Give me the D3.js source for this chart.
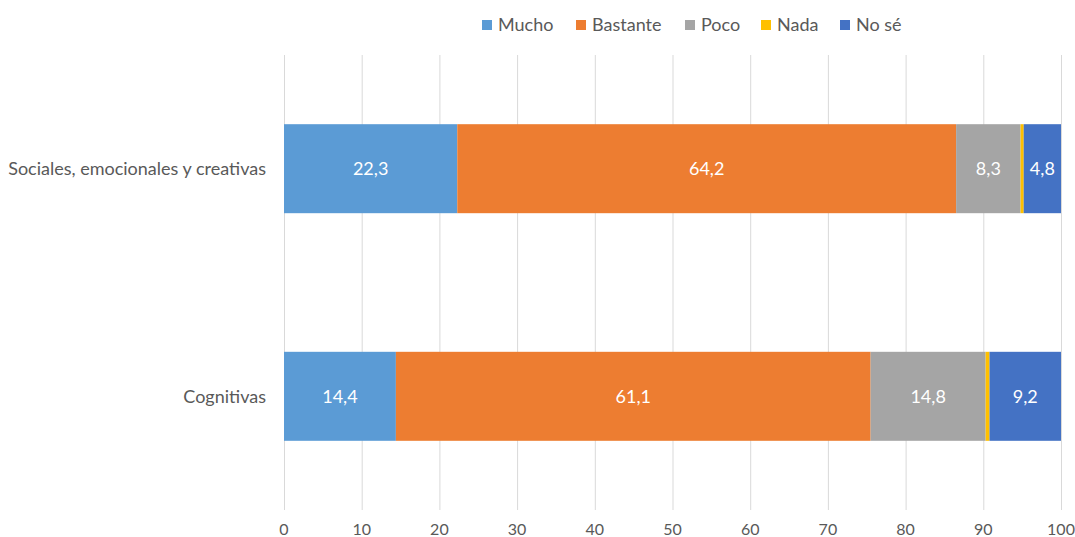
<!DOCTYPE html>
<html>
<head>
<meta charset="utf-8">
<script src="https://cdn.jsdelivr.net/npm/d3@7"></script>
<style>
  body { margin: 0; background: #fff; }
  svg { display: block; font-family: Lato, "Open Sans", sans-serif; }
</style>
</head>
<body>
<svg width="1075" height="537"></svg>
<script>
  const categories = ["Sociales, emocionales y creativas", "Cognitivas"];
  const seriesNames = ["Mucho", "Bastante", "Poco", "Nada", "No sé"];
  const seriesColors = ["#5b9bd5", "#ed7d31", "#a5a5a5", "#ffc000", "#4472c4"];
  const mucho = [22.3, 14.4];
  const bastante = [64.2, 61.1];
  const poco = [8.3, 14.8];
  const nada = [0.4, 0.5];
  const noSe = [4.8, 9.2];
  const xTicks = [0, 10, 20, 30, 40, 50, 60, 70, 80, 90, 100];

  const svg = d3.select("svg");
  const plotLeft = 284, plotRight = 1061, plotTop = 55, plotBottom = 510;

  const rows = categories.map((c, i) => ({
    cat: c,
    Mucho: mucho[i], Bastante: bastante[i], Poco: poco[i], Nada: nada[i], "No sé": noSe[i]
  }));

  const x = d3.scaleLinear().domain([0, 100]).range([plotLeft, plotRight]);
  const y = d3.scaleBand().domain(categories).range([plotTop, plotBottom])
    .paddingInner(0.609).paddingOuter(0.304);
  const color = d3.scaleOrdinal().domain(seriesNames).range(seriesColors);

  // gridlines
  svg.append("g")
    .selectAll("line")
    .data(xTicks)
    .enter().append("line")
    .attr("x1", d => x(d) + 0.5)
    .attr("x2", d => x(d) + 0.5)
    .attr("y1", plotTop)
    .attr("y2", plotBottom)
    .attr("stroke", "#d9d9d9")
    .attr("stroke-width", 1);

  // tick labels (sit at the very bottom edge, as in the original)
  svg.append("g")
    .selectAll("text")
    .data(xTicks)
    .enter().append("text")
    .attr("x", d => x(d))
    .attr("y", 535)
    .attr("text-anchor", "middle")
    .attr("font-size", 16)
    .attr("fill", "#595959")
    .text(d => d);

  const stacked = d3.stack().keys(seriesNames)(rows);

  const layer = svg.append("g")
    .selectAll("g")
    .data(stacked)
    .enter().append("g")
    .attr("fill", d => color(d.key));

  layer.selectAll("rect")
    .data(d => d)
    .enter().append("rect")
    .attr("x", d => x(d[0]))
    .attr("width", d => x(d[1]) - x(d[0]))
    .attr("y", d => y(d.data.cat))
    .attr("height", y.bandwidth());

  // data labels (Nada has none)
  const fmt = v => d3.format(".1f")(v).replace(".", ",");
  layer.filter(d => d.key !== "Nada")
    .selectAll("text")
    .data(d => d)
    .enter().append("text")
    .attr("x", d => (x(d[0]) + x(d[1])) / 2)
    .attr("y", d => y(d.data.cat) + y.bandwidth() / 2)
    .attr("dy", "0.35em")
    .attr("text-anchor", "middle")
    .attr("font-size", 18)
    .attr("fill", "#fff")
    .text(d => fmt(d[1] - d[0]));

  // category labels
  svg.append("g")
    .selectAll("text")
    .data(categories)
    .enter().append("text")
    .attr("x", 266)
    .attr("y", d => y(d) + y.bandwidth() / 2)
    .attr("dy", "0.35em")
    .attr("text-anchor", "end")
    .attr("font-size", 18)
    .attr("fill", "#595959")
    .text(d => d);

  // legend
  const legendX = [482, 576, 685, 761, 840];
  const legend = svg.append("g")
    .selectAll("g")
    .data(seriesNames)
    .enter().append("g")
    .attr("transform", (d, i) => `translate(${legendX[i]},25)`);

  legend.append("rect")
    .attr("x", 0)
    .attr("y", -5)
    .attr("width", 10)
    .attr("height", 10)
    .attr("fill", d => color(d));

  legend.append("text")
    .attr("x", 16)
    .attr("y", 0)
    .attr("dy", "0.35em")
    .attr("font-size", 18)
    .attr("fill", "#595959")
    .text(d => d);
</script>
</body>
</html>
